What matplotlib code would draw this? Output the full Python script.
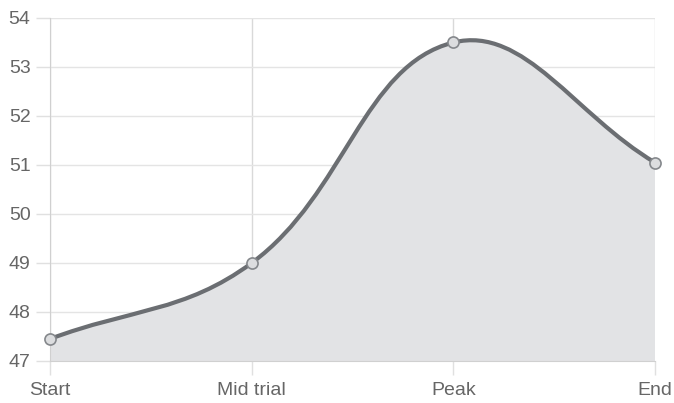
import numpy as np
import matplotlib.pyplot as plt
from matplotlib.path import Path
from matplotlib.patches import PathPatch

# Dados do gráfico
categorias = ['Start', 'Mid trial', 'Peak', 'End']
valores = [47.45, 49.0, 53.5, 51.05]
y_ticks = [47, 48, 49, 50, 51, 52, 53, 54]

plt.rcParams['font.family'] = ['Liberation Sans', 'DejaVu Sans']

fig = plt.figure(figsize=(6.74, 4.03), dpi=100)
ax = fig.add_axes([50 / 674, 42 / 403, 605 / 674, 343 / 403])
ax.set_xlim(0, len(categorias) - 1)
ax.set_ylim(47, 54)

# Curva suavizada no estilo Chart.js (tension 0.4), calculada em pixels
xs = np.arange(len(categorias), dtype=float)
ys = np.array(valores)
sx = 605 / (len(categorias) - 1)
sy = 343 / 7
px = xs * sx
py = ys * sy
t = 0.4
n = len(px)
cp_in, cp_out = [], []
for i in range(n):
    p0 = (px[max(i - 1, 0)], py[max(i - 1, 0)])
    p1 = (px[i], py[i])
    p2 = (px[min(i + 1, n - 1)], py[min(i + 1, n - 1)])
    d01 = np.hypot(p1[0] - p0[0], p1[1] - p0[1])
    d12 = np.hypot(p2[0] - p1[0], p2[1] - p1[1])
    s01 = d01 / (d01 + d12) if d01 + d12 else 0
    s12 = d12 / (d01 + d12) if d01 + d12 else 0
    fa, fb = t * s01, t * s12
    cp_in.append((p1[0] - fa * (p2[0] - p0[0]), p1[1] - fa * (p2[1] - p0[1])))
    cp_out.append((p1[0] + fb * (p2[0] - p0[0]), p1[1] + fb * (p2[1] - p0[1])))

verts = [(px[0] / sx, py[0] / sy)]
codes = [Path.MOVETO]
for i in range(n - 1):
    verts += [(cp_out[i][0] / sx, cp_out[i][1] / sy),
              (cp_in[i + 1][0] / sx, cp_in[i + 1][1] / sy),
              (px[i + 1] / sx, py[i + 1] / sy)]
    codes += [Path.CURVE4] * 3

# Área preenchida
fill_verts = verts + [(xs[-1], 47), (xs[0], 47), (xs[0], ys[0])]
fill_codes = codes + [Path.LINETO, Path.LINETO, Path.CLOSEPOLY]
ax.add_patch(PathPatch(Path(fill_verts, fill_codes), facecolor='#e2e3e5',
                       edgecolor='none', zorder=1))
ax.add_patch(PathPatch(Path(verts, codes), facecolor='none', edgecolor='#6b6e72',
                       linewidth=3, capstyle='round', zorder=3))
ax.plot(xs, ys, 'o', markersize=8, markerfacecolor='#dcdddf',
        markeredgecolor='#85888c', markeredgewidth=1.2, zorder=4, clip_on=False)

# Grade e eixos
ax.set_xticks(xs)
ax.set_xticklabels(categorias)
ax.set_yticks(y_ticks)
ax.grid(True, color='#e4e4e4', linewidth=1, zorder=0)
for lbl in ax.get_xgridlines():
    lbl.set_color('#d9d9d9')
ax.tick_params(axis='both', colors='#e0e0e0', labelcolor='#666666',
               labelsize=14, length=10, width=1)
ax.tick_params(axis='x', pad=5)
ax.tick_params(axis='y', pad=4)
for side in ['top', 'right']:
    ax.spines[side].set_visible(False)
for side in ['left', 'bottom']:
    ax.spines[side].set_color('#d0d0d0')
ax.set_axisbelow(True)

plt.savefig('out.png', dpi=100)
